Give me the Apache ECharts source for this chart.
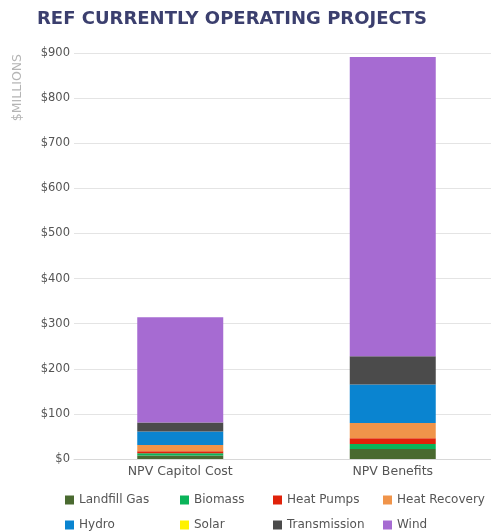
<!DOCTYPE html>
<html><head><meta charset="utf-8">
<script src="https://cdn.jsdelivr.net/npm/echarts@6/dist/echarts.min.js"></script>
<style>html,body{margin:0;padding:0;background:#fff}#c{width:491px;height:531px}</style>
</head><body><div id="c"></div>
<script>
const categories = ["NPV Capitol Cost", "NPV Benefits"];
const seriesNames = ["Landfill Gas","Biomass","Heat Pumps","Heat Recovery","Hydro","Solar","Transmission","Wind"];
const landfillGas = [8, 22];
const biomass = [5, 11];
const heatPumps = [4, 13];
const heatRecovery = [14, 34];
const hydro = [30, 85];
const solar = [0, 0];
const transmission = [20, 63];
const wind = [233, 663];
const yTicks = [0,100,200,300,400,500,600,700,800,900];

const values = [landfillGas, biomass, heatPumps, heatRecovery, hydro, solar, transmission, wind];
const colors = ["#4a6a30","#0ab45a","#e0220a","#f0944a","#0a84d0","#fff200","#4b4b4b","#a66bd2"];
const legendPos = [
  [65,494],[180,494],[273,494],[383,494],
  [65,519],[180,519],[273,519],[383,519]
];
const F = "DejaVu Sans";
const chart = echarts.init(document.getElementById('c'));
chart.setOption({
  animation:false,
  title:{text:"REF CURRENTLY OPERATING PROJECTS",left:37,top:10,padding:0,
    textStyle:{fontFamily:F,fontSize:18,fontWeight:"bold",color:"#3b3f6e"}},
  graphic:[{type:'text',left:11,top:54,rotation:Math.PI/2,
    style:{text:"$MILLIONS",fill:"#b5b5b5",font:"12.5px 'DejaVu Sans'"}}],
  legend: seriesNames.map((n,i)=>({data:[n],left:legendPos[i][0],top:legendPos[i][1],padding:0,
    itemWidth:9,itemHeight:9,itemGap:4,icon:'rect',
    textStyle:{fontFamily:F,fontSize:12,color:"#555"}})),
  grid:{left:74,right:-8,top:53,bottom:72,outerBoundsMode:'none'},
  xAxis:{type:'category',data:categories,
    axisLine:{lineStyle:{color:"#d8d8d8"}},axisTick:{show:false},
    axisLabel:{fontFamily:F,fontSize:12.5,color:"#555",margin:6}},
  yAxis:{type:'value',min:yTicks[0],max:yTicks[yTicks.length-1],interval:100,
    axisLabel:{fontFamily:F,fontSize:11.5,color:"#555",margin:4,formatter:v=>'$'+v},
    splitLine:{lineStyle:{color:"#e4e4e4"}},axisLine:{show:false},axisTick:{show:false}},
  series: seriesNames.map((n,i)=>({name:n,type:'bar',stack:'s',barWidth:86,
    data:values[i],itemStyle:{color:colors[i]}}))
});
</script></body></html>
